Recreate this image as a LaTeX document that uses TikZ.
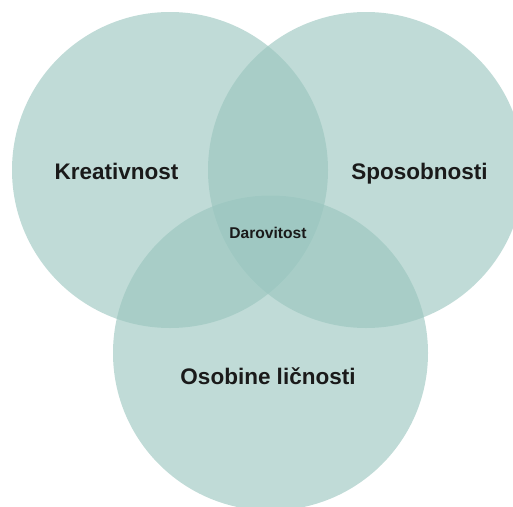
\documentclass[tikz,border=0pt]{standalone}
\usepackage{fontspec}
\setmainfont{Liberation Sans}
\definecolor{venn}{HTML}{99C5BE}
\definecolor{ink}{HTML}{1A1A1A}
\begin{document}
\begin{tikzpicture}[x=1pt,y=-1pt,
  setcircle/.style={circle, fill=venn, fill opacity=0.62, draw=none, inner sep=0pt, minimum size=316pt},
  biglabel/.style={font=\fontsize{22.5}{26}\selectfont\bfseries, text=ink, inner sep=0pt, anchor=base},
  smalllabel/.style={font=\fontsize{15.6}{18}\selectfont\bfseries, text=ink, inner sep=0pt, anchor=base}]
\useasboundingbox (0,0) rectangle (513,506);
\clip (0,0) rectangle (513,506);
\node[setcircle] (c1) at (170,170) {};
\node[setcircle] (c2) at (366,170) {};
\node[setcircle, minimum size=315pt] (c3) at (270.5,353) {};
\node[biglabel] (kre) at (116.5,179) {Kreativnost};
\node[biglabel] (spo) at (419.5,179) {Sposobnosti};
\node[biglabel] (oso) at (268,384) {Osobine ličnosti};
\node[smalllabel] (dar) at (268,238) {Darovitost};
\end{tikzpicture}
\end{document}
